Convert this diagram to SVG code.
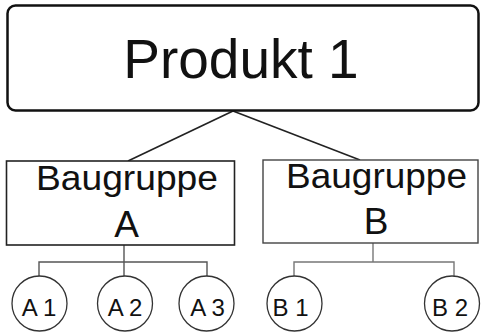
<svg xmlns="http://www.w3.org/2000/svg" width="481" height="334" viewBox="0 0 481 334">
  <style>
    text { font-family: "Liberation Sans", Arial, sans-serif; fill: #111; text-anchor: middle; }
    .top { fill: #fff; stroke: #111; stroke-width: 2.5; }
    .grp { fill: #fff; stroke: #222; stroke-width: 1.6; }
    .grpB { fill: #fff; stroke: #444; stroke-width: 1.4; }
    .part { fill: #fff; stroke: #333; stroke-width: 1.3; }
    .link { fill: none; stroke: #222; stroke-width: 1.6; }
    .linkA { fill: none; stroke: #555; stroke-width: 1.4; }
    .linkB { fill: none; stroke: #777; stroke-width: 1.4; }
    .t1 { font-size: 55px; }
    .t2 { font-size: 35px; }
    .t3 { font-size: 37px; }
    .t4 { font-size: 24px; }
  </style>

  <g id="connectors">
    <line class="link" x1="233" y1="111" x2="128" y2="161"/>
    <line class="link" x1="233" y1="111" x2="360" y2="160"/>
    <polyline class="linkA" points="124,245 124,276"/>
    <polyline class="linkA" points="39,276 39,262 207,262 207,276"/>
    <polyline class="linkB" points="373,243 373,262"/>
    <polyline class="linkB" points="294,276 294,262 454,262 454,276"/>
  </g>

  <g id="produkt">
    <rect class="top" x="7.5" y="5.5" width="471" height="105" rx="8"/>
    <text class="t1" x="241" y="78">Produkt 1</text>
  </g>

  <g id="baugruppe-a">
    <rect class="grp" x="6.5" y="161" width="228" height="84"/>
    <text class="t2" x="127" y="190" textLength="182" lengthAdjust="spacingAndGlyphs">Baugruppe</text>
    <text class="t3" x="126.5" y="237">A</text>
  </g>

  <g id="baugruppe-b">
    <rect class="grpB" x="263" y="160" width="215" height="83"/>
    <text class="t2" x="376.5" y="188" textLength="181" lengthAdjust="spacingAndGlyphs">Baugruppe</text>
    <text class="t3" x="376" y="234">B</text>
  </g>

  <g id="a1">
    <circle class="part" cx="39.5" cy="303.5" r="27.5"/>
    <text class="t4" x="39" y="315.5">A 1</text>
  </g>
  <g id="a2">
    <circle class="part" cx="125" cy="303.5" r="27.5"/>
    <text class="t4" x="125" y="315.5">A 2</text>
  </g>
  <g id="a3">
    <circle class="part" cx="206.5" cy="303.5" r="27.5"/>
    <text class="t4" x="207.5" y="315.5">A 3</text>
  </g>
  <g id="b1">
    <circle class="part" cx="294.5" cy="303.5" r="27.5"/>
    <text class="t4" x="290.5" y="315.5">B 1</text>
  </g>
  <g id="b2">
    <circle class="part" cx="452" cy="303.5" r="27.5"/>
    <text class="t4" x="450" y="315.5">B 2</text>
  </g>
</svg>
